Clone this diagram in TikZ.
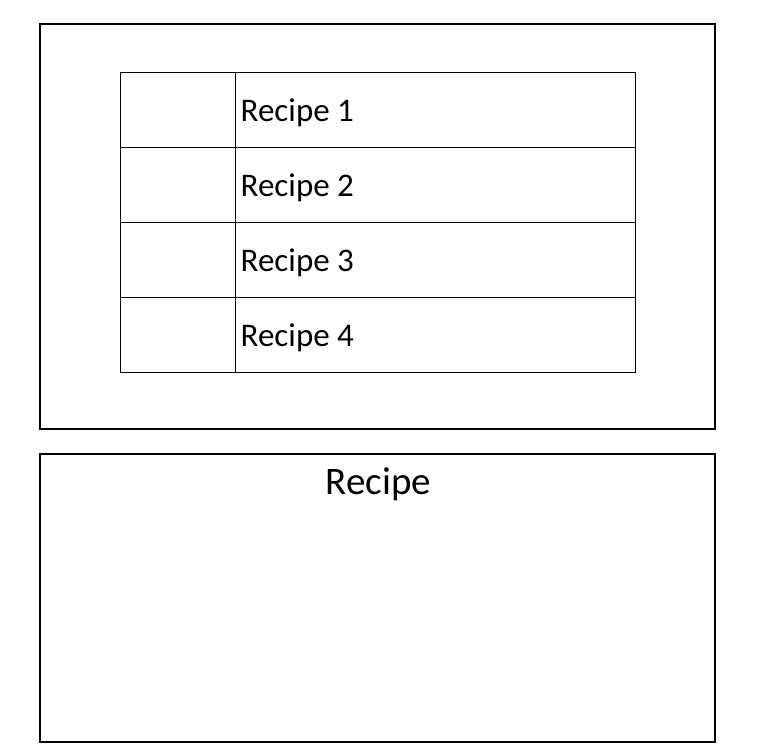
\documentclass[tikz,border=0pt]{standalone}
\usepackage{fontspec}
\setmainfont{Carlito}
\begin{document}
\begin{tikzpicture}[x=1pt,y=-1pt,
  frame/.style={draw=black,line width=2pt},
  grid/.style={draw=black,line width=1pt},
  rowtext/.style={anchor=base west,inner sep=0pt,font=\fontsize{33}{39}\selectfont},
  titletext/.style={anchor=base,inner sep=0pt,font=\fontsize{39}{47}\selectfont}]
\useasboundingbox[fill=white] (0,0) rectangle (762,755);
% outer frames
\draw[frame] (40,24) rectangle (715,428.7);
\draw[frame] (40,454) rectangle (715,742.3);
% table
\draw[grid] (120.5,72.5) rectangle (635.5,372);
\draw[grid] (235.5,72.5) -- (235.5,372);
\draw[grid] (120.5,147.2) -- (635.5,147.2);
\draw[grid] (120.5,222.2) -- (635.5,222.2);
\draw[grid] (120.5,297.2) -- (635.5,297.2);
% texts
\node[rowtext] (r1) at (240.5,121) {Recipe 1};
\node[rowtext] (r2) at (240.5,196) {Recipe 2};
\node[rowtext] (r3) at (240.5,271) {Recipe 3};
\node[rowtext] (r4) at (240.5,346) {Recipe 4};
\node[titletext] (title) at (378.5,494.3) {Recipe};
\end{tikzpicture}
\end{document}
